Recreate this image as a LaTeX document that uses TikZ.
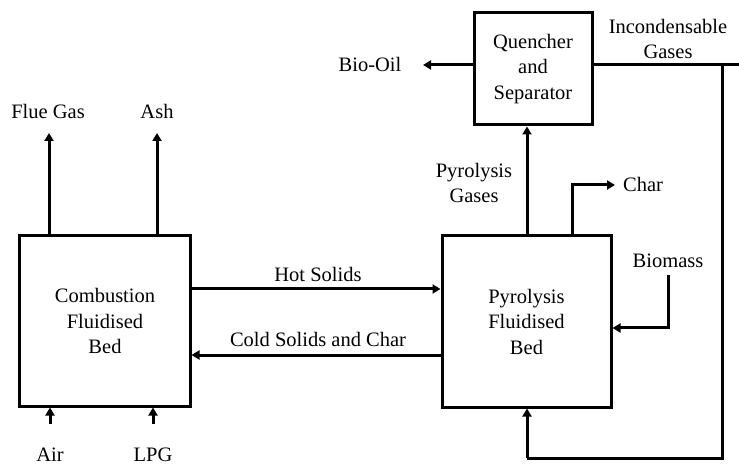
\documentclass[tikz,border=0pt]{standalone}
\usepackage{fontspec}
\setmainfont{Liberation Serif}
\usetikzlibrary{arrows.meta}
\begin{document}
\begin{tikzpicture}[x=1bp,y=-1bp,
  every node/.style={font=\fontsize{20.5bp}{25.5bp}\selectfont, inner sep=0pt, align=center},
  box/.style={draw, line width=3bp},
  flow/.style={line width=3bp, -{Triangle[length=8bp,width=9bp]}},
  line/.style={line width=3bp},
  lbl/.style={anchor=base}]
\useasboundingbox (0,0) rectangle (739,464);
% boxes
\node[box, minimum width=170bp, minimum height=170bp] (comb) at (105,321) {};
\node at (105,321) {Combustion\\Fluidised\\Bed};
\node[box, minimum width=169bp, minimum height=171bp] (pyr) at (526.5,321.5) {};
\node at (526.5,321.5) {Pyrolysis\\Fluidised\\Bed};
\node[box, minimum width=118bp, minimum height=112bp] (quen) at (533,69) {};
\node at (533,69) {Quencher\\and\\Separator};
% labels
\node[lbl] (flue) at (48,119) {Flue Gas};
\node[lbl] (ash) at (157,119) {Ash};
\node[lbl] (air) at (50,461) {Air};
\node[lbl] (lpg) at (153,461) {LPG};
\node[lbl] (hot) at (318,282) {Hot Solids};
\node[lbl] (cold) at (318,347) {Cold Solids and Char};
\node[lbl] (bio) at (370,72) {Bio-Oil};
\node (inc) at (668,39) {Incondensable\\Gases};
\node (pg) at (474,183) {Pyrolysis\\Gases};
\node[lbl] (char) at (643,192) {Char};
\node[lbl] (biom) at (668,268) {Biomass};
% coordinates
\coordinate (flueT) at (49,133);
\coordinate (ashT) at (157,133);
\coordinate (airB) at (50,424);
\coordinate (lpgB) at (153,424);
\coordinate (bioT) at (423,65);
\coordinate (incE) at (739,65);
\coordinate (recTop) at (722,65);
\coordinate (recBR) at (722,458);
\coordinate (recBL) at (527,458);
\coordinate (charC) at (572,185);
\coordinate (charT) at (615,185);
\coordinate (biomT) at (668,275);
\coordinate (biomC) at (668,328);
% connectors
\draw[flow] (comb.north west -| flueT) -- (flueT);
\draw[flow] (comb.north west -| ashT) -- (ashT);
\draw[flow] (airB) -- (airB |- comb.south);
\draw[flow] (lpgB) -- (lpgB |- comb.south);
\draw[flow] (comb.east |- 0,289) -- (pyr.west |- 0,289);
\draw[flow] (pyr.west |- 0,355) -- (comb.east |- 0,355);
\draw[flow] (pyr.north -| 527,0) -- (quen.south -| 527,0);
\draw[flow] (quen.west |- 0,65) -- (bioT);
\draw[line] (quen.east |- 0,65) -- (incE);
\draw[line] (recTop) -- (recBR) -- (recBL);
\draw[flow] (recBL) -- (pyr.south -| recBL);
\draw[flow] (pyr.north -| charC) -- (charC) -- (charT);
\draw[flow] (biomT) -- (biomC) -- (pyr.east |- biomC);
\end{tikzpicture}
\end{document}
